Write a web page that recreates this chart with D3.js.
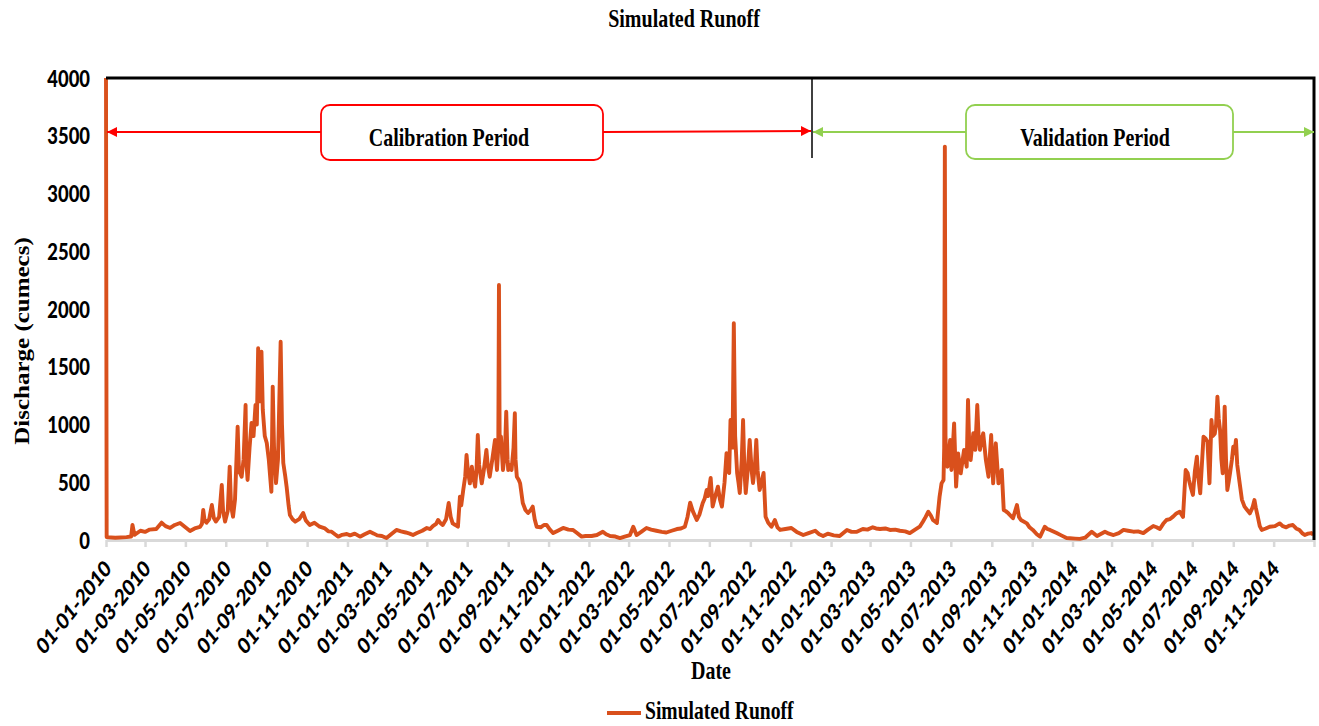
<!DOCTYPE html>
<html>
<head>
<meta charset="utf-8">
<script src="https://cdn.jsdelivr.net/npm/d3@7"></script>
<style>body{margin:0;background:#fff}</style>
</head>
<body>
<svg id="chart" width="1319" height="726"></svg>
<script>
// simulated daily runoff (cumecs), [mm-dd, value] per year
var runoff2010=[["01-01",4000],["01-02",25],["01-15",20],["02-01",25],["02-08",30],["02-10",130],["02-13",45],["02-22",80],["03-01",70],["03-08",90],["03-18",95],["03-26",150],["04-01",120],["04-08",104],["04-15",130],["04-23",147],["05-01",110],["05-08",78],["05-15",100],["05-23",113],["05-26",140],["05-28",260],["05-30",170],["06-02",150],["06-06",180],["06-10",303],["06-13",190],["06-16",160],["06-21",200],["06-25",476],["06-27",250],["06-30",160],["07-04",250],["07-07",635],["07-09",300],["07-12",202],["07-15",350],["07-19",981],["07-21",600],["07-25",548],["07-28",700],["07-31",1169],["08-01",700],["08-03",520],["08-06",800],["08-09",1013],["08-12",900],["08-15",1169],["08-17",1000],["08-19",1660],["08-21",1200],["08-24",1631],["08-26",1126],["08-29",900],["09-01",840],["09-04",700],["09-08",418],["09-10",1328],["09-12",800],["09-15",493],["09-18",700],["09-22",1717],["09-24",1000],["09-26",667],["09-29",550],["10-01",462],["10-04",300],["10-06",216],["10-10",180],["10-14",159],["10-20",180],["10-26",234],["10-30",170],["11-05",130],["11-12",150],["11-20",115],["11-28",100],["12-03",75],["12-08",72],["12-13",50],["12-18",29],["12-24",45],["12-31",52]];
var runoff2011=[["01-05",40],["01-12",55],["01-20",29],["01-27",50],["02-04",72],["02-10",55],["02-15",40],["02-22",35],["03-01",17],["03-08",50],["03-16",87],["03-23",75],["03-30",65],["04-05",55],["04-10",43],["04-16",60],["04-24",80],["05-01",104],["05-06",95],["05-10",120],["05-15",140],["05-18",173],["05-21",150],["05-25",130],["05-30",180],["06-03",320],["06-06",200],["06-09",144],["06-13",130],["06-17",115],["06-20",375],["06-22",300],["06-25",433],["06-28",550],["06-30",736],["07-02",600],["07-05",490],["07-08",635],["07-10",550],["07-13",462],["07-15",600],["07-17",909],["07-19",650],["07-23",490],["07-26",600],["07-30",780],["08-01",650],["08-04",548],["08-08",700],["08-12",866],["08-15",606],["08-17",800],["08-18",2208],["08-19",900],["08-21",895],["08-24",606],["08-27",750],["08-29",1111],["08-31",700],["09-01",606],["09-04",650],["09-06",606],["09-09",800],["09-11",1097],["09-12",700],["09-14",548],["09-17",520],["09-19",490],["09-23",320],["09-27",260],["10-01",234],["10-05",260],["10-08",289],["10-11",180],["10-14",115],["10-20",110],["10-25",130],["10-29",130],["11-03",90],["11-08",60],["11-15",80],["11-23",104],["12-01",90],["12-08",87],["12-14",60],["12-21",29],["12-27",35]];
var runoff2012=[["01-05",35],["01-13",43],["01-22",72],["01-27",50],["02-02",35],["02-10",30],["02-17",17],["02-24",30],["03-03",43],["03-08",115],["03-13",43],["03-20",70],["03-28",104],["04-04",90],["04-12",80],["04-20",70],["04-27",65],["05-05",80],["05-13",95],["05-19",100],["05-25",115],["05-29",200],["06-02",323],["06-06",250],["06-12",173],["06-16",220],["06-21",320],["06-24",360],["06-27",433],["06-29",380],["07-03",537],["07-06",289],["07-10",380],["07-14",462],["07-17",350],["07-20",289],["07-24",500],["07-27",752],["07-29",600],["07-31",580],["08-02",1039],["08-05",800],["08-07",1877],["08-09",900],["08-12",580],["08-14",500],["08-16",407],["08-19",700],["08-21",1039],["08-23",600],["08-25",407],["08-28",600],["08-31",866],["09-03",600],["09-05",493],["09-08",650],["09-10",866],["09-12",600],["09-15",433],["09-18",500],["09-21",580],["09-24",202],["09-28",150],["10-03",115],["10-08",173],["10-12",110],["10-16",87],["10-24",95],["11-02",104],["11-10",70],["11-20",43],["11-28",60],["12-08",80],["12-14",50],["12-20",35],["12-27",55]];
var runoff2013=[["01-05",40],["01-14",35],["01-25",87],["02-01",70],["02-09",72],["02-18",95],["02-25",90],["03-05",110],["03-10",100],["03-16",95],["03-24",100],["03-31",87],["04-08",90],["04-15",80],["04-23",75],["04-30",60],["05-08",90],["05-15",115],["05-20",160],["05-24",200],["05-28",245],["06-01",210],["06-04",173],["06-07",160],["06-10",147],["06-14",375],["06-17",490],["06-20",520],["06-21",800],["06-22",3406],["06-23",900],["06-24",700],["06-26",635],["06-28",750],["06-30",866],["07-02",606],["07-04",800],["07-06",1010],["07-09",462],["07-12",750],["07-16",577],["07-19",700],["07-21",780],["07-25",635],["07-27",1212],["07-29",800],["07-31",693],["08-04",924],["08-07",780],["08-10",1169],["08-12",900],["08-14",780],["08-16",850],["08-19",924],["08-23",693],["08-27",548],["08-31",909],["09-03",490],["09-07",837],["09-11",490],["09-14",550],["09-16",606],["09-19",260],["09-22",250],["09-26",231],["10-03",188],["10-09",303],["10-12",200],["10-15",173],["10-24",144],["10-28",110],["11-02",87],["11-08",50],["11-13",29],["11-20",115],["11-24",95],["11-28",87],["12-08",60],["12-15",40],["12-23",17],["12-28",15]];
var runoff2014=[["01-05",12],["01-12",10],["01-20",20],["01-30",72],["02-07",35],["02-12",50],["02-19",72],["02-25",55],["03-04",43],["03-12",60],["03-19",87],["03-26",80],["04-03",72],["04-10",75],["04-18",60],["04-25",90],["05-03",121],["05-08",110],["05-13",95],["05-18",140],["05-23",173],["05-28",180],["06-02",202],["06-07",230],["06-12",245],["06-17",200],["06-21",606],["06-24",580],["06-26",520],["06-29",450],["07-02",390],["07-05",600],["07-08",722],["07-10",550],["07-13",404],["07-16",700],["07-18",895],["07-21",880],["07-24",850],["07-27",491],["07-30",1039],["08-01",900],["08-04",920],["08-06",1000],["08-08",1241],["08-10",1050],["08-12",953],["08-14",700],["08-16",577],["08-19",1155],["08-21",700],["08-23",433],["08-25",500],["08-27",577],["08-30",700],["09-01",808],["09-03",750],["09-05",866],["09-07",650],["09-10",520],["09-14",350],["09-18",289],["09-22",260],["09-26",231],["09-30",280],["10-03",346],["10-05",280],["10-08",202],["10-11",120],["10-14",87],["10-20",100],["10-26",115],["11-03",120],["11-10",144],["11-15",120],["11-20",110],["11-25",125],["11-30",130],["12-05",100],["12-10",87],["12-14",60],["12-18",43],["12-23",55],["12-28",60],["12-31",45]];

var yTicks=[0,500,1000,1500,2000,2500,3000,3500,4000];
var periods=["Calibration Period","Validation Period"];
var seriesName="Simulated Runoff";

var SX=0.8,	// picture is squeezed sideways, text too
	SERIF="'Liberation Serif','Times New Roman',serif",
	SANS="Lato,'Liberation Sans',sans-serif",
	LINE='#d9501c',
	plot={left:106,right:1314,top:78,bottom:540};

var svg=d3.select('#chart').attr('font-family',SERIF);
var parse=d3.timeParse('%Y-%m-%d');

function toSeries(yr,arr){
	return arr.map(function(d){ return {date:parse(yr+'-'+d[0]),value:d[1]} });
}
var data=[].concat(
	toSeries(2010,runoff2010),toSeries(2011,runoff2011),toSeries(2012,runoff2012),
	toSeries(2013,runoff2013),toSeries(2014,runoff2014));

var x=d3.scaleTime().domain([new Date(2010,0,1),new Date(2015,0,1)]).range([plot.left,plot.right]);
var y=d3.scaleLinear().domain([0,4000]).range([plot.bottom,plot.top]);

function label(g,str,px,py,o){
	o=o||{};
	return g.append('text')
		.attr('transform','translate('+px+','+py+') scale('+SX+',1)'+(o.rot?' rotate('+o.rot+')':''))
		.attr('text-anchor',o.anchor||'middle')
		.attr('font-family',o.font||SERIF)
		.attr('font-weight','bold')
		.attr('font-size',o.size||25)
		.attr('fill','#000')
		.text(str);
}

// x axis (grey), every 2 months + end tick
var xTicks=d3.timeMonth.every(2).range(x.domain()[0],x.domain()[1]);
var fmt=d3.timeFormat('%d-%m-%Y');
var gx=svg.append('g').attr('transform','translate(0,'+plot.bottom+')')
	.call(d3.axisBottom(x).tickValues(xTicks.concat([x.domain()[1]])).tickSize(7).tickSizeOuter(0)
		.tickFormat(function(d,i){ return i<xTicks.length?fmt(d):'' }));
gx.select('.domain').attr('stroke','#d9d9d9').attr('stroke-width',3);
gx.selectAll('.tick line').attr('stroke','#d9d9d9').attr('stroke-width',2.5);
gx.selectAll('.tick text').attr('x',null).attr('y',null).attr('dy',null)
	.attr('transform','translate(6,30) scale('+SX+',1) rotate(-45)')
	.attr('text-anchor','end').attr('fill','#000')
	.attr('font-family',SANS).attr('font-weight',900).attr('font-size',22.5);

// y axis labels only
var gy=svg.append('g').attr('transform','translate('+plot.left+',0)')
	.call(d3.axisLeft(y).tickValues(yTicks).tickSize(0).tickFormat(d3.format('d')));
gy.select('.domain').remove();
gy.selectAll('.tick text').attr('x',null).attr('dy',null)
	.attr('transform','translate(-16,8) scale('+SX+',1)')
	.attr('text-anchor','end').attr('fill','#000')
	.attr('font-family',SANS).attr('font-weight',900).attr('font-size',23);

// runoff line
var line=d3.line().x(function(d){return x(d.date)}).y(function(d){return y(d.value)});
svg.append('path').datum(data).attr('d',line)
	.attr('fill','none').attr('stroke',LINE).attr('stroke-width',3.9)
	.attr('stroke-linejoin','round');

// black frame top + right
svg.append('path')
	.attr('d','M'+plot.left+','+plot.top+'H'+plot.right+'V'+plot.bottom)
	.attr('fill','none').attr('stroke','#000').attr('stroke-width',3);

// arrows
var defs=svg.append('defs');
[['arrRed','#ff0000'],['arrGreen','#92d050']].forEach(function(m){
	defs.append('marker').attr('id',m[0]).attr('viewBox','0 0 10 10')
		.attr('refX',10).attr('refY',5).attr('markerWidth',11).attr('markerHeight',10)
		.attr('markerUnits','userSpaceOnUse').attr('orient','auto-start-reverse')
		.append('path').attr('d','M0,0L10,5L0,10z').attr('fill',m[1]);
});

var splitX=812, arrowY=132;
svg.append('line').attr('x1',splitX).attr('x2',splitX).attr('y1',plot.top).attr('y2',158)
	.attr('stroke','#000').attr('stroke-width',1.5);

var gA=svg.append('g');
function seg(x1,y1,x2,y2,col,mk,start){
	var l=gA.append('line').attr('x1',x1).attr('y1',y1).attr('x2',x2).attr('y2',y2)
		.attr('stroke',col).attr('stroke-width',2);
	l.attr(start?'marker-start':'marker-end','url(#'+mk+')');
}
seg(plot.left+1,arrowY,321,arrowY,'#ff0000','arrRed',true);
seg(603,arrowY,splitX-1,arrowY-1,'#ff0000','arrRed',false);
seg(966,arrowY,splitX+1,arrowY,'#92d050','arrGreen',false);
seg(1233,arrowY,plot.right,arrowY,'#92d050','arrGreen',false);

gA.append('rect').attr('x',321).attr('y',105).attr('width',282).attr('height',55).attr('rx',9)
	.attr('fill','#fff').attr('stroke','#ff0000').attr('stroke-width',1.8);
gA.append('rect').attr('x',966).attr('y',105).attr('width',267).attr('height',54).attr('rx',9)
	.attr('fill','#fff').attr('stroke','#92d050').attr('stroke-width',1.8);
label(gA,periods[0],449,146);
label(gA,periods[1],1095,146);

// titles
label(svg,seriesName,684,27);
label(svg,'Date',711,679);
label(svg,'Discharge (cumecs)',29,341,{rot:-90});

// legend
svg.append('line').attr('x1',607).attr('x2',641).attr('y1',713).attr('y2',713)
	.attr('stroke',LINE).attr('stroke-width',4);
label(svg,seriesName,645,719,{anchor:'start',size:24.5});
</script>
</body>
</html>
